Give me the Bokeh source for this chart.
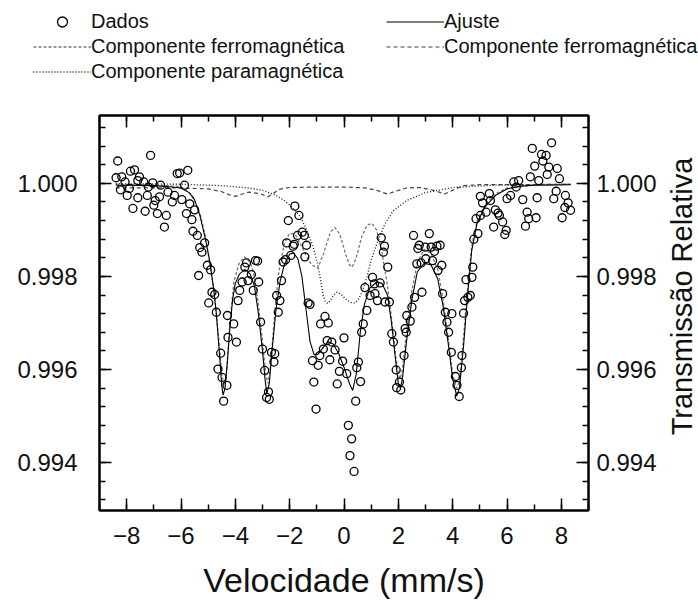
import math
from bokeh.plotting import figure
from bokeh.layouts import row, column
from bokeh.models import (Range1d, LinearAxis, SingleIntervalTicker, PrintfTickFormatter,
                          BasicTickFormatter, CustomJSTickFormatter, Legend, LegendItem, Label)
from bokeh.embed import file_html
from bokeh.resources import INLINE

# ---- measured spectrum (velocity in mm/s, relative transmission) ----
vel_data = [
    -8.39, -8.33, -8.23, -8.18, -8.06, -7.98, -7.90, -7.86, -7.77, -7.71,
    -7.59, -7.59, -7.53, -7.37, -7.32, -7.24, -7.20, -7.12, -7.04, -7.00,
    -6.95, -6.87, -6.79, -6.75, -6.61, -6.54, -6.48, -6.32, -6.24, -6.14,
    -6.05, -5.97, -5.87, -5.80, -5.75, -5.68, -5.60, -5.56, -5.50, -5.40,
    -5.35, -5.31, -5.23, -5.13, -5.03, -4.98, -4.91, -4.86, -4.76, -4.70,
    -4.64, -4.54, -4.49, -4.43, -4.31, -4.29, -4.27, -4.06, -3.96, -3.90,
    -3.84, -3.75, -3.65, -3.59, -3.53, -3.41, -3.34, -3.26, -3.18, -3.14,
    -3.07, -3.00, -2.92, -2.85, -2.78, -2.75, -2.67, -2.58, -2.55, -2.48,
    -2.42, -2.36, -2.30, -2.24, -2.15, -2.11, -2.05, -1.96, -1.87, -1.83,
    -1.81, -1.71, -1.66, -1.54, -1.46, -1.44, -1.38, -1.32, -1.25, -1.16,
    -1.11, -1.03, -0.95, -0.89, -0.86, -0.76, -0.70, -0.62, -0.58, -0.52,
    -0.45, -0.33, -0.25, -0.17, -0.05, 0.00, 0.10, 0.16, 0.22, 0.28,
    0.37, 0.43, 0.47, 0.53, 0.61, 0.65, 0.71, 0.77, 0.84, 0.96,
    1.05, 1.12, 1.14, 1.23, 1.33, 1.37, 1.45, 1.49, 1.51, 1.61,
    1.67, 1.76, 1.82, 1.92, 1.94, 2.04, 2.09, 2.21, 2.25, 2.29,
    2.31, 2.44, 2.50, 2.56, 2.60, 2.68, 2.72, 2.77, 2.84, 2.87,
    2.99, 3.01, 3.14, 3.21, 3.26, 3.33, 3.42, 3.46, 3.54, 3.60,
    3.63, 3.73, 3.79, 3.85, 3.95, 3.97, 4.10, 4.16, 4.24, 4.32,
    4.34, 4.40, 4.44, 4.49, 4.56, 4.65, 4.71, 4.74, 4.78, 4.86,
    4.93, 5.02, 5.02, 5.10, 5.23, 5.35, 5.39, 5.51, 5.57, 5.67,
    5.72, 5.84, 5.92, 5.97, 6.00, 6.13, 6.25, 6.34, 6.43, 6.58,
    6.68, 6.74, 6.80, 6.86, 6.93, 7.02, 7.07, 7.11, 7.17, 7.27,
    7.32, 7.44, 7.48, 7.54, 7.64, 7.72, 7.81, 7.85, 7.93, 8.03,
    8.13, 8.15, 8.25, 8.34,
]
trans_data = [
    1.00012, 1.00048, 0.99986, 1.00014, 1.00003, 0.99974, 0.99989, 1.00026, 0.99946, 1.00029,
    1.00006, 0.99969, 1.00014, 1.00003, 0.99940, 0.99974, 0.99992, 1.00060, 1.00001, 0.99953,
    0.99963, 0.99935, 0.99971, 0.99996, 0.99906, 0.99931, 0.99981, 0.99960, 0.99974, 1.00021,
    1.00022, 0.99965, 0.99996, 0.99935, 1.00028, 0.99956, 0.99922, 0.99897, 0.99943, 0.99888,
    0.99802, 0.99862, 0.99852, 0.99872, 0.99824, 0.99743, 0.99814, 0.99766, 0.99761, 0.99723,
    0.99601, 0.99635, 0.99583, 0.99532, 0.99566, 0.99716, 0.99669, 0.99698, 0.99659, 0.99748,
    0.99770, 0.99788, 0.99820, 0.99829, 0.99791, 0.99804, 0.99770, 0.99834, 0.99833, 0.99788,
    0.99702, 0.99644, 0.99598, 0.99540, 0.99552, 0.99536, 0.99637, 0.99616, 0.99634, 0.99759,
    0.99723, 0.99748, 0.99791, 0.99831, 0.99836, 0.99872, 0.99920, 0.99845, 0.99865, 0.99869,
    0.99951, 0.99888, 0.99931, 0.99895, 0.99888, 0.99842, 0.99867, 0.99743, 0.99740, 0.99619,
    0.99573, 0.99515, 0.99609, 0.99630, 0.99698, 0.99644, 0.99714, 0.99662, 0.99700, 0.99621,
    0.99659, 0.99642, 0.99569, 0.99596, 0.99618, 0.99668, 0.99591, 0.99480, 0.99415, 0.99451,
    0.99381, 0.99532, 0.99604, 0.99616, 0.99574, 0.99680, 0.99698, 0.99776, 0.99727, 0.99759,
    0.99798, 0.99784, 0.99763, 0.99748, 0.99786, 0.99883, 0.99852, 0.99865, 0.99745, 0.99820,
    0.99745, 0.99677, 0.99659, 0.99599, 0.99561, 0.99573, 0.99556, 0.99630, 0.99688, 0.99680,
    0.99716, 0.99704, 0.99734, 0.99888, 0.99755, 0.99827, 0.99860, 0.99867, 0.99829, 0.99766,
    0.99863, 0.99838, 0.99892, 0.99863, 0.99834, 0.99854, 0.99865, 0.99813, 0.99867, 0.99824,
    0.99763, 0.99723, 0.99702, 0.99680, 0.99637, 0.99720, 0.99585, 0.99566, 0.99542, 0.99604,
    0.99630, 0.99721, 0.99748, 0.99793, 0.99755, 0.99759, 0.99798, 0.99820, 0.99880, 0.99924,
    0.99892, 0.99931, 0.99972, 0.99958, 0.99938, 0.99978, 0.99963, 0.99906, 0.99943, 0.99936,
    0.99931, 0.99917, 0.99890, 0.99899, 0.99967, 0.99974, 1.00003, 0.99992, 1.00006, 0.99965,
    0.99908, 0.99938, 0.99924, 1.00014, 1.00075, 1.00037, 0.99926, 0.99969, 1.00006, 1.00062,
    1.00048, 1.00060, 1.00019, 1.00035, 1.00087, 0.99967, 0.99983, 1.00032, 1.00010, 0.99926,
    0.99948, 0.99974, 0.99958, 0.99942,
]

# ---- fitted spectrum (Ajuste) ----
fit_v = [-8.4, -8.0, -7.0, -6.5, -6.0, -5.7, -5.5, -5.3, -5.1, -4.95,
         -4.8, -4.7, -4.6, -4.5, -4.45, -4.38, -4.3, -4.2, -4.1, -4.0,
         -3.85, -3.65, -3.45, -3.3, -3.15, -3.0, -2.9, -2.84, -2.75, -2.65,
         -2.5, -2.35, -2.2, -2.0, -1.85, -1.7, -1.55, -1.4, -1.25, -1.1,
         -0.95, -0.8, -0.6, -0.4, -0.2, 0.0, 0.2, 0.32, 0.45, 0.6,
         0.75, 0.95, 1.2, 1.4, 1.6, 1.75, 1.9, 2.0, 2.07, 2.15,
         2.3, 2.5, 2.7, 2.95, 3.2, 3.45, 3.65, 3.85, 4.0, 4.15,
         4.25, 4.4, 4.55, 4.7, 4.9, 5.2, 5.6, 6.0, 6.5, 7.0, 8.35]
fit_t = [0.99996, 0.99996, 0.99995, 0.99993, 0.99990, 0.99980, 0.99965, 0.99930, 0.99880, 0.99835,
         0.99775, 0.99720, 0.99645, 0.99565, 0.99545, 0.99560, 0.99610, 0.99690, 0.99750, 0.99785,
         0.99805, 0.99815, 0.99805, 0.99780, 0.99720, 0.99640, 0.99575, 0.99548, 0.99570, 0.99640,
         0.99730, 0.99790, 0.99825, 0.99848, 0.99850, 0.99838, 0.99800, 0.99730, 0.99660, 0.99632,
         0.99633, 0.99645, 0.99660, 0.99655, 0.99635, 0.99605, 0.99570, 0.99555, 0.99590, 0.99680,
         0.99740, 0.99775, 0.99788, 0.99785, 0.99760, 0.99700, 0.99620, 0.99570, 0.99560, 0.99580,
         0.99660, 0.99750, 0.99810, 0.99828, 0.99825, 0.99795, 0.99735, 0.99650, 0.99580, 0.99543,
         0.99560, 0.99650, 0.99760, 0.99855, 0.99915, 0.99950, 0.99975, 0.99988, 0.99994, 0.99996, 0.99997]

# ---- main ferromagnetic sextet ----
ferro1_v = [-8.4, -7.0, -6.0, -5.6, -5.3, -5.1, -4.9, -4.75, -4.6, -4.5,
            -4.42, -4.33, -4.2, -4.05, -3.85, -3.65, -3.45, -3.3, -3.15, -3.0,
            -2.88, -2.8, -2.7, -2.55, -2.4, -2.2, -2.0, -1.8, -1.6, -1.4,
            -1.2, -0.96, -0.75, -0.5, -0.33, -0.15, 0.05, 0.2, 0.3, 0.45,
            0.65, 0.85, 1.03, 1.2, 1.4, 1.6, 1.75, 1.9, 2.0, 2.07,
            2.15, 2.3, 2.5, 2.7, 2.95, 3.2, 3.45, 3.65, 3.85, 4.0,
            4.15, 4.25, 4.4, 4.55, 4.7, 4.9, 5.2, 5.6, 6.0, 7.0, 8.35]
ferro1_t = [0.99998, 0.99997, 0.99993, 0.99975, 0.99935, 0.99885, 0.99815, 0.99750, 0.99660, 0.99590,
            0.99565, 0.99590, 0.99700, 0.99790, 0.99830, 0.99842, 0.99830, 0.99800, 0.99740, 0.99660,
            0.99590, 0.99570, 0.99610, 0.99720, 0.99810, 0.99870, 0.99893, 0.99890, 0.99870, 0.99845,
            0.99825, 0.99818, 0.99850, 0.99895, 0.99905, 0.99890, 0.99850, 0.99825, 0.99820, 0.99840,
            0.99885, 0.99910, 0.99914, 0.99900, 0.99850, 0.99780, 0.99710, 0.99630, 0.99590, 0.99580,
            0.99600, 0.99680, 0.99770, 0.99830, 0.99858, 0.99850, 0.99815, 0.99750, 0.99660, 0.99590,
            0.99560, 0.99575, 0.99670, 0.99775, 0.99865, 0.99920, 0.99955, 0.99978, 0.99990, 0.99996, 0.99998]

# ---- weak, broad ferromagnetic sextet ----
ferro2_v = [-8.4, -7.0, -6.0, -5.0, -4.5, -4.2, -4.0, -3.8, -3.5, -3.1,
            -2.8, -2.6, -2.4, -2.0, -1.0, 0.0, 0.8, 1.2, 1.6, 1.9,
            2.3, 2.8, 3.3, 3.7, 4.0, 4.4, 5.0, 6.0, 8.35]
ferro2_t = [0.99990, 0.99990, 0.99990, 0.99988, 0.99982, 0.99975, 0.99972, 0.99976, 0.99981, 0.99978,
            0.99971, 0.99978, 0.99987, 0.99991, 0.99992, 0.99992, 0.99990, 0.99985, 0.99977, 0.99983,
            0.99990, 0.99991, 0.99985, 0.99977, 0.99985, 0.99995, 0.99997, 0.99997, 0.99998]

# ---- paramagnetic doublet ----
para_v = [-8.4, -6.0, -4.5, -3.5, -3.0, -2.5, -2.2, -1.9, -1.6, -1.37,
          -1.15, -1.0, -0.87, -0.77, -0.68, -0.6, -0.5, -0.38, -0.26, -0.12,
          0.05, 0.25, 0.41, 0.55, 0.7, 0.85, 1.0, 1.22, 1.5, 1.8,
          2.3, 3.0, 4.0, 5.5, 8.35]
para_t = [0.99999, 0.99998, 0.99995, 0.99990, 0.99985, 0.99974, 0.99963, 0.99948, 0.99928, 0.99899,
          0.99865, 0.99834, 0.99795, 0.99760, 0.99745, 0.99742, 0.99748, 0.99760, 0.99766, 0.99762,
          0.99752, 0.99744, 0.99743, 0.99752, 0.99772, 0.99800, 0.99835, 0.99872, 0.99912, 0.99940,
          0.99963, 0.99980, 0.99991, 0.99996, 0.99998]

FONT = "Liberation Sans"
LEGEND_H = 90
TOP, BOTTOM = 25, 90
PLOT_H = 601 - LEGEND_H
NAN = float("nan")

# line styles shared by the plot and its key
STYLE_FIT = dict(line_color="black", line_width=1.1)
STYLE_F1 = dict(line_color="#777777", line_width=1.3, line_dash="3 2")
STYLE_F2 = dict(line_color="#444444", line_width=1.2, line_dash="4 3")
STYLE_PARA = dict(line_color="#222222", line_width=1.4, line_dash="1 2")
STYLE_DATA = dict(marker="circle", size=8, fill_color=None, line_color="black", line_width=1.3)

y_range = Range1d(0.992971, 1.001457)
p = figure(width=663, height=PLOT_H, output_backend="svg", toolbar_location=None,
           x_range=Range1d(-9.0, 9.0), y_range=y_range,
           min_border_left=99, min_border_right=75, min_border_top=TOP, min_border_bottom=BOTTOM,
           background_fill_color="white", border_fill_color="white")
p.grid.visible = False
p.outline_line_color = "black"
p.outline_line_width = 2


def style_axis(ax, size="24px"):
    ax.axis_line_color = "black"
    ax.axis_line_width = 2
    ax.major_tick_in = 12
    ax.major_tick_out = 0
    ax.minor_tick_in = 6
    ax.minor_tick_out = 0
    ax.major_tick_line_width = 1.5
    ax.minor_tick_line_width = 1.5
    ax.major_tick_line_color = "black"
    ax.minor_tick_line_color = "black"
    ax.major_label_text_font = FONT
    ax.major_label_text_font_size = size
    ax.major_label_text_color = "#111111"
    ax.axis_label_text_font = FONT
    ax.axis_label_text_font_style = "normal"
    ax.axis_label_text_color = "#111111"


# bottom axis
xb = p.xaxis[0]
xb.ticker = SingleIntervalTicker(interval=2, num_minor_ticks=2)
xb.formatter = BasicTickFormatter()
style_axis(xb)
xb.major_label_standoff = 16
xb.axis_label = "Velocidade (mm/s)"
xb.axis_label_text_font_size = "34px"
xb.axis_label_standoff = 14

# top axis: ticks only, no labels
xt = LinearAxis(ticker=SingleIntervalTicker(interval=2, num_minor_ticks=2),
                formatter=CustomJSTickFormatter(code="return ''"))
style_axis(xt, size="1px")
xt.major_label_standoff = 0
p.add_layout(xt, "above")

# left axis
yl = p.yaxis[0]
yl.ticker = SingleIntervalTicker(interval=0.002, num_minor_ticks=5)
yl.formatter = PrintfTickFormatter(format="%.3f")
style_axis(yl)
yl.major_label_standoff = 22

# right axis (tick labels only, its title sits in the side strip)
yr = LinearAxis(ticker=SingleIntervalTicker(interval=0.002, num_minor_ticks=5),
                formatter=PrintfTickFormatter(format="%.3f"))
style_axis(yr)
yr.major_label_standoff = 8
p.add_layout(yr, "right")

# component curves, fit and measured points
p.line(ferro2_v, ferro2_t, **STYLE_F2)
p.line(para_v, para_t, **STYLE_PARA)
p.line(ferro1_v, ferro1_t, **STYLE_F1)
p.line(fit_v, fit_t, **STYLE_FIT)
p.scatter(vel_data, trans_data, **STYLE_DATA)

# key strip above the plot; its renderers hold no drawable points, only the styles
key = figure(width=698, height=LEGEND_H, output_backend="svg", toolbar_location=None,
             x_range=Range1d(0, 1), y_range=Range1d(0, 1),
             x_axis_location=None, y_axis_location=None,
             min_border_left=0, min_border_right=0, min_border_top=0, min_border_bottom=0,
             background_fill_color="white", border_fill_color="white")
key.grid.visible = False
key.outline_line_color = None
k_data = key.scatter([NAN], [NAN], **STYLE_DATA)
k_f1 = key.line([NAN, NAN], [NAN, NAN], **STYLE_F1)
k_para = key.line([NAN, NAN], [NAN, NAN], **STYLE_PARA)
k_fit = key.line([NAN, NAN], [NAN, NAN], **STYLE_FIT)
k_f2 = key.line([NAN, NAN], [NAN, NAN], **STYLE_F2)


def make_legend(items, loc):
    return Legend(items=items, location=loc, orientation="vertical",
                  padding=0, margin=0, spacing=0, label_standoff=0,
                  glyph_width=58, glyph_height=25, label_height=25,
                  border_line_color=None, background_fill_alpha=0,
                  label_text_font=FONT, label_text_font_size="20px",
                  label_text_color="#111111")


key.add_layout(make_legend([
    LegendItem(label="Dados", renderers=[k_data]),
    LegendItem(label="Componente ferromagnética", renderers=[k_f1]),
    LegendItem(label="Componente paramagnética", renderers=[k_para]),
], (33, 6.5)))
key.add_layout(make_legend([
    LegendItem(label="Ajuste", renderers=[k_fit]),
    LegendItem(label="Componente ferromagnética", renderers=[k_f2]),
], (386, 31.5)))

# narrow strip on the right carrying the vertical axis title
side = figure(width=35, height=PLOT_H, output_backend="svg", toolbar_location=None,
              x_range=Range1d(0, 1), y_range=y_range,
              x_axis_location=None, y_axis_location=None,
              min_border_left=0, min_border_right=0, min_border_top=TOP, min_border_bottom=BOTTOM,
              background_fill_color="white", border_fill_color="white")
side.grid.visible = False
side.outline_line_color = None
side.add_layout(Label(x=18, y=214, x_units="screen", y_units="screen",
                      text="Transmissão Relativa", angle=math.pi / 2,
                      text_align="center", text_baseline="middle",
                      text_font=FONT, text_font_size="29px", text_color="#111111"))

layout = column(key, row(p, side, spacing=0), spacing=0)
open("out.html", "w").write(file_html(layout, INLINE))
